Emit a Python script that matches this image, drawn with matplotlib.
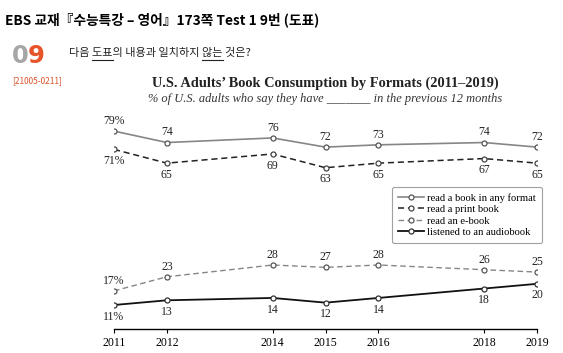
import matplotlib
matplotlib.use("Agg")
import matplotlib.pyplot as plt
from matplotlib.lines import Line2D

years = [2011, 2012, 2014, 2015, 2016, 2018, 2019]
any_format = [79, 74, 76, 72, 73, 74, 72]
print_book = [71, 65, 69, 63, 65, 67, 65]
ebook = [17, 23, 28, 27, 28, 26, 25]
audiobook = [11, 13, 14, 12, 14, 18, 20]
labels = ["read a book in any format", "read a print book",
          "read an e-book", "listened to an audiobook"]

SERIF = "Liberation Serif"
KR = ["Noto Sans CJK KR", "DejaVu Sans"]

W, H = 563, 353
fig = plt.figure(figsize=(W / 100, H / 100), dpi=100)

def fx(px):
    return px / W

def fy(px):
    return 1 - px / H

# axes geometry (pixel)
xl, xr = 114, 537
up_top, up_bot = 124.2, 174.6
lo_top, lo_bot = 255.6, 329

ax_up = fig.add_axes([fx(xl), fy(up_bot), (xr - xl) / W, (up_bot - up_top) / H])
ax_lo = fig.add_axes([fx(xl), fy(lo_bot), (xr - xl) / W, (lo_bot - lo_top) / H])
for ax in (ax_up, ax_lo):
    ax.set_xlim(2011, 2019)
    ax.patch.set_alpha(0)
    for s in ax.spines.values():
        s.set_visible(False)
    ax.set_yticks([])
ax_up.set_ylim(60, 82)
ax_lo.set_ylim(0.8, 32)
ax_up.set_xticks([])
ax_lo.spines["bottom"].set_visible(True)
ax_lo.spines["bottom"].set_linewidth(1.0)
ax_lo.set_xticks(years)
ax_lo.set_xticklabels([str(y) for y in years], fontfamily=SERIF, fontsize=8.5)
ax_lo.tick_params(axis="x", direction="out", length=3, width=0.8, pad=3)

mk = dict(marker="o", markersize=3.6, markerfacecolor="white", markeredgewidth=0.9)
l1, = ax_up.plot(years, any_format, color="#868686", lw=1.2, ls="-",
                 markeredgecolor="#555555", **mk)
l2, = ax_up.plot(years, print_book, color="#222222", lw=1.1, ls=(0, (4, 2.5)),
                 markeredgecolor="#444444", **mk)
l3, = ax_lo.plot(years, ebook, color="#868686", lw=1.0, ls=(0, (4, 2.5)),
                 markeredgecolor="#555555", **mk)
l4, = ax_lo.plot(years, audiobook, color="#111111", lw=1.3, ls="-",
                 markeredgecolor="#333333", **mk)

def label_series(ax, vals, above):
    for i, (x, v) in enumerate(zip(years, vals)):
        txt = f"{v}%" if i == 0 else str(v)
        off = 3 if above else -4
        ax.annotate(txt, (x, v), xytext=(0, off), textcoords="offset points",
                    ha="center", va="bottom" if above else "top",
                    fontfamily=SERIF, fontsize=8.5, color="#222222",
                    annotation_clip=False)

label_series(ax_up, any_format, True)
label_series(ax_up, print_book, False)
label_series(ax_lo, ebook, True)
label_series(ax_lo, audiobook, False)

leg = fig.legend([l1, l2, l3, l4], labels, loc="upper left",
                 bbox_to_anchor=(fx(392), fy(187)), bbox_transform=fig.transFigure,
                 prop={"family": SERIF, "size": 7.6}, frameon=True, fancybox=True,
                 edgecolor="#888888", handlelength=2.5, handletextpad=0.3,
                 labelspacing=0.2, borderpad=0.55, numpoints=1, borderaxespad=0)
leg.get_frame().set_linewidth(0.8)

# titles
fig.text(fx(325), fy(83), "U.S. Adults\u2019 Book Consumption by Formats (2011\u20132019)",
         ha="center", va="center", fontfamily=SERIF, fontweight="bold", fontsize=10.4,
         color="#222222")
fig.text(fx(325), fy(99), "% of U.S. adults who say they have _______ in the previous 12 months",
         ha="center", va="center", fontfamily=SERIF, fontstyle="italic", fontsize=8.9,
         color="#333333")

# header
fig.text(fx(5), fy(20), "EBS 교재『수능특강 – 영어』173쪽 Test 1 9번 (도표)",
         ha="left", va="center", fontfamily=KR, fontweight="bold", fontsize=9.9)
fig.text(fx(12), fy(56), "0", ha="left", va="center", fontfamily="DejaVu Sans",
         fontweight="bold", fontsize=17.5, color="#a6a6a6")
fig.text(fx(28), fy(56), "9", ha="left", va="center", fontfamily="DejaVu Sans",
         fontweight="bold", fontsize=17.5, color="#e8542a")
fig.text(fx(12), fy(81), "[21005-0211]", ha="left", va="center", fontfamily=KR,
         fontsize=6, color="#d9542a")

# question text with underlined words
renderer = fig.canvas.get_renderer()
qsize = 8
segments = ["다음 ", "도표", "의 내용과 일치하지 ", "않는", " 것은?"]
underline = [False, True, False, True, False]
full = "".join(segments)
qx0, qy = 69, 53

def text_width(s):
    t = fig.text(0, 0, s + "|", fontfamily=KR, fontsize=qsize)
    w1 = t.get_window_extent(renderer).width
    t.remove()
    t = fig.text(0, 0, "|", fontfamily=KR, fontsize=qsize)
    w2 = t.get_window_extent(renderer).width
    t.remove()
    return w1 - w2

fig.text(fx(qx0), fy(qy), full, ha="left", va="center", fontfamily=KR,
         fontsize=qsize, color="#222222")
prefix = ""
for seg, ul in zip(segments, underline):
    start = text_width(prefix) if prefix else 0
    prefix += seg
    end = text_width(prefix)
    if ul:
        fig.add_artist(Line2D([fx(qx0 + start), fx(qx0 + end)], [fy(qy + 7), fy(qy + 7)],
                              transform=fig.transFigure, color="#222222", lw=0.8))

fig.savefig("out.png", dpi=100)
